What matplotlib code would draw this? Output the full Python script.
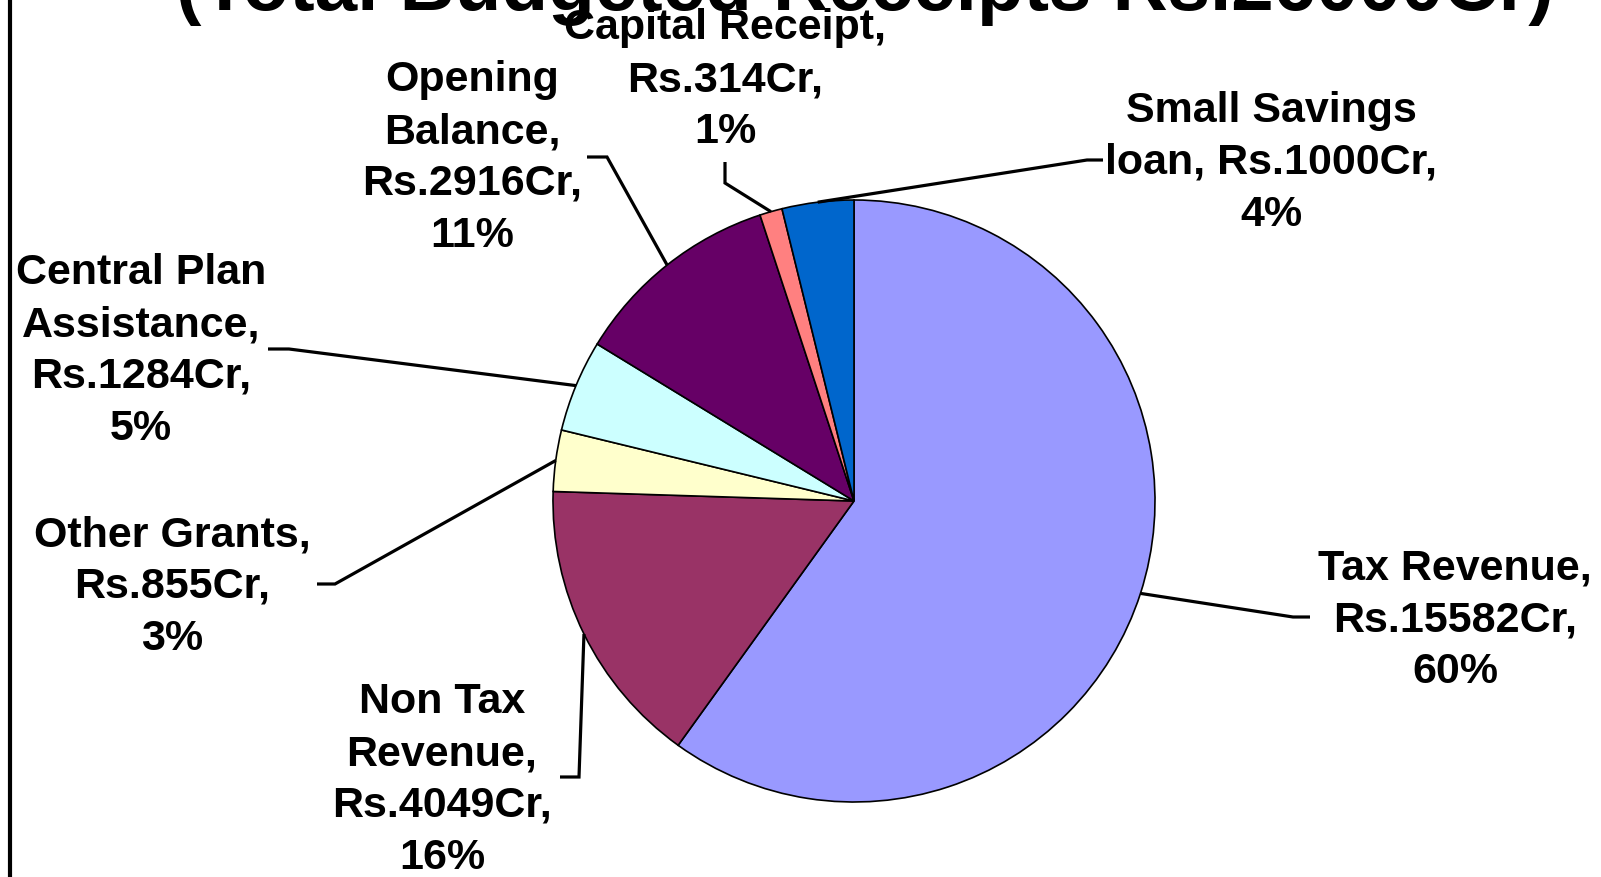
import numpy as np
import matplotlib
matplotlib.use('Agg')
import matplotlib.pyplot as plt

plt.rcParams['font.family'] = ['Liberation Sans', 'DejaVu Sans']
plt.rcParams['font.weight'] = 'bold'

# Budget data (Rs. Crore)
categories = ['Tax Revenue', 'Non Tax Revenue', 'Other Grants', 'Central Plan Assistance',
              'Opening Balance', 'Capital Receipt', 'Small Savings loan']
values = [15582, 4049, 855, 1284, 2916, 314, 1000]
colors = ['#9999FF', '#993366', '#FFFFCC', '#CCFFFF', '#660066', '#FF8080', '#0066CC']
label_fmt = ['Tax Revenue,\nRs.{v}Cr,\n{p}%',
             'Non Tax\nRevenue,\nRs.{v}Cr,\n{p}%',
             'Other Grants,\nRs.{v}Cr,\n{p}%',
             'Central Plan\nAssistance,\nRs.{v}Cr,\n{p}%',
             'Opening\nBalance,\nRs.{v}Cr,\n{p}%',
             'Capital Receipt,\nRs.{v}Cr,\n{p}%',
             'Small Savings\nloan, Rs.{v}Cr,\n{p}%']
title = '(Total Budgeted Receipts Rs.{}Cr)'.format(sum(values))

# label placement (pixels from top-left) and leader-line elbows
label_xy = [(1455, 620), (442, 780), (172, 587), (141, 351), (472, 158), (725, 80), (1271, 163)]
elbow_xy = [(1293, 618), (579, 778), (335, 585), (289, 350), (607, 158), (725, 184), (1087, 161)]
end_xy = [(1310, 618), (560, 778), (317, 585), (268, 350), (587, 158), (725, 163), (1103, 161)]

W, H = 1601, 878
cx, cy, R = 854, 502, 301


def fy(y):
    return H - y


fig = plt.figure(figsize=(W / 100, H / 100), dpi=100)
ax = fig.add_axes([0, 0, 1, 1])

wedges, _ = ax.pie(values, colors=colors, startangle=90, counterclock=False,
                   center=(cx, fy(cy)), radius=R,
                   wedgeprops=dict(edgecolor='black', linewidth=1.2))
ax.set_xlim(0, W)
ax.set_ylim(0, H)
ax.set_aspect('equal')
ax.axis('off')

# title sits mostly above the visible area, as in the slide
ax.text(865, fy(10), title, ha='center', va='baseline', fontsize=55, fontweight='bold')

total = sum(values)
for i, w in enumerate(wedges):
    mid = np.deg2rad((w.theta1 + w.theta2) / 2)
    sx, sy = cx + R * np.cos(mid), fy(cy) + R * np.sin(mid)
    ex, ey = elbow_xy[i]
    tx, ty = end_xy[i]
    ax.plot([sx, ex, tx], [sy, fy(ey), fy(ty)], color='black', lw=2.3,
            solid_capstyle='butt', solid_joinstyle='miter')
    pct = int(round(values[i] * 100.0 / total))
    lx, ly = label_xy[i]
    ax.text(lx, fy(ly), label_fmt[i].format(v=values[i], p=pct), ha='center', va='center',
            fontsize=31, fontweight='bold', linespacing=1.38, multialignment='center')

# left border of the slide frame
ax.plot([9.5, 9.5], [0, H], color='black', lw=3, solid_capstyle='butt')

fig.savefig('out.png', dpi=100)
